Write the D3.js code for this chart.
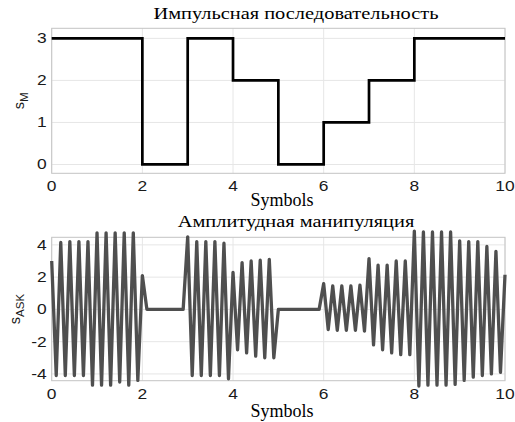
<!DOCTYPE html>
<html>
<head>
<meta charset="utf-8">
<script src="https://cdn.jsdelivr.net/npm/d3@7"></script>
<style>
  body { margin:0; background:#fff; }
  svg { display:block; }
  .tick-lbl { font-family: "Liberation Sans", Arial, sans-serif; font-size:14.5px; fill:#1a1a1a; }
  .ttl { font-family: "Liberation Serif", "Times New Roman", serif; font-size:17px; fill:#000; }
  .xlbl { font-family: "Liberation Serif", "Times New Roman", serif; font-size:18px; fill:#000; }
  .ylbl { font-family: "Liberation Sans", Arial, sans-serif; font-size:14.5px; fill:#1a1a1a; }
</style>
</head>
<body>
<svg id="chart" width="515" height="422"></svg>
<script>
// symbol values, one per symbol interval
var symbols = [3, 3, 0, 3, 2, 0, 1, 2, 3, 3];
var xTicks = [0, 2, 4, 6, 8, 10];
var topYTicks = [0, 1, 2, 3];
var askYTicks = [-4, -2, 0, 2, 4];

// ASK samples, one every 0.1 symbol from 0 to 10
var askStep = 0.1;
var askValues = [
  3.0, -4.1, 4.15, -4.1, 4.2, -4.1, 4.2, -4.1, 4.2, -4.7,
  4.75, -4.7, 4.75, -4.7, 4.75, -4.5, 4.75, -4.7, 4.75, -4.4,
  2.1, 0, 0, 0, 0, 0, 0, 0, 0, 0,
  4.5, -4.1, 4.2, -4.1, 4.2, -4.1, 4.2, -4.1, 4.1, -4.3,
  2.3, -2.5, 2.9, -2.7, 3.0, -2.9, 3.05, -3.0, 3.1, -3.0,
  0, 0, 0, 0, 0, 0, 0, 0, 0, 0,
  1.6, -1.25, 1.45, -1.3, 1.45, -1.3, 1.45, -1.3, 1.5, -1.35,
  3.15, -2.2, 2.75, -2.5, 2.75, -2.7, 3.0, -2.8, 3.0, -2.8,
  4.85, -4.75, 4.8, -4.7, 4.8, -4.7, 4.8, -4.7, 4.8, -4.65,
  4.25, -4.4, 4.2, -4.2, 4.2, -4.1, 3.9, -4.0, 3.6, -3.9,
  2.15
];

var svg = d3.select("#chart");
// lettering in the picture is a bit wider than tall
var stretch = 1.2;

var panels = [
  {top:28.3, bottom:173.3, domain:[-0.21, 3.24], ticks:topYTicks, title:"Импульсная последовательность",
   titleY:18.5, xTickY:190.5, xlblY:206, ylblX:23.5, sub:"M"},
  {top:237.3, bottom:380.7, domain:[-4.42, 4.47], ticks:askYTicks, title:"Амплитудная манипуляция",
   titleY:226.5, xTickY:398.5, xlblY:417, ylblX:19.5, sub:"ASK"}
];

var left = 51.7, right = 505;
var x = d3.scaleLinear().domain([0, 10]).range([left, right]);

function place(px, py, sx){ return "translate(" + px + "," + py + ") scale(" + (sx || stretch) + ",1)"; }

panels.forEach(function(p){
  p.y = d3.scaleLinear().domain(p.domain).range([p.bottom, p.top]);
  var g = svg.append("g");

  // grid
  g.selectAll(".gx").data(xTicks).enter().append("line")
    .attr("x1", d => x(d)).attr("x2", d => x(d))
    .attr("y1", p.top).attr("y2", p.bottom)
    .attr("stroke", "#e6e6e6").attr("stroke-width", 1);
  g.selectAll(".gy").data(p.ticks).enter().append("line")
    .attr("x1", left).attr("x2", right)
    .attr("y1", d => p.y(d)).attr("y2", d => p.y(d))
    .attr("stroke", "#e6e6e6").attr("stroke-width", 1);

  // box
  g.append("rect")
    .attr("x", left).attr("y", p.top)
    .attr("width", right - left).attr("height", p.bottom - p.top)
    .attr("fill", "none").attr("stroke", "#c4c4c4").attr("stroke-width", 1);

  // tick labels
  g.selectAll(".xt").data(xTicks).enter().append("text")
    .attr("class", "tick-lbl")
    .attr("transform", d => place(x(d), p.xTickY))
    .attr("text-anchor", "middle")
    .text(d => d);
  g.selectAll(".yt").data(p.ticks).enter().append("text")
    .attr("class", "tick-lbl")
    .attr("transform", d => place(left - 5, p.y(d) + 5))
    .attr("text-anchor", "end")
    .text(d => d < 0 ? "-" + Math.abs(d) : d);

  // title + axis labels
  g.append("text").attr("class", "ttl")
    .attr("transform", place(296, p.titleY))
    .attr("text-anchor", "middle").text(p.title);
  g.append("text").attr("class", "xlbl")
    .attr("transform", place(282, p.xlblY, 1))
    .attr("text-anchor", "middle").text("Symbols");

  var yl = g.append("text").attr("class", "ylbl")
    .attr("transform", "translate(" + p.ylblX + "," + ((p.top + p.bottom) / 2) + ") rotate(-90)")
    .attr("text-anchor", "middle");
  yl.append("tspan").text("s");
  yl.append("tspan").attr("dy", 4).attr("font-size", "11.5px").text(p.sub);
});

// top: step sequence
var stepPts = symbols.map((v, i) => [i, v]);
stepPts.push([symbols.length, symbols[symbols.length - 1]]);
var yTop = panels[0].y;
svg.append("path")
  .attr("d", d3.line().x(d => x(d[0])).y(d => yTop(d[1])).curve(d3.curveStepAfter)(stepPts))
  .attr("fill", "none").attr("stroke", "#000").attr("stroke-width", 2.7);

// bottom: ASK signal
var yAsk = panels[1].y;
svg.append("path")
  .attr("d", d3.line().x((d, i) => x(i * askStep)).y(d => yAsk(d))(askValues))
  .attr("fill", "none").attr("stroke", "#4f4f4f").attr("stroke-width", 3.3)
  .attr("stroke-linejoin", "round");
</script>
</body>
</html>
